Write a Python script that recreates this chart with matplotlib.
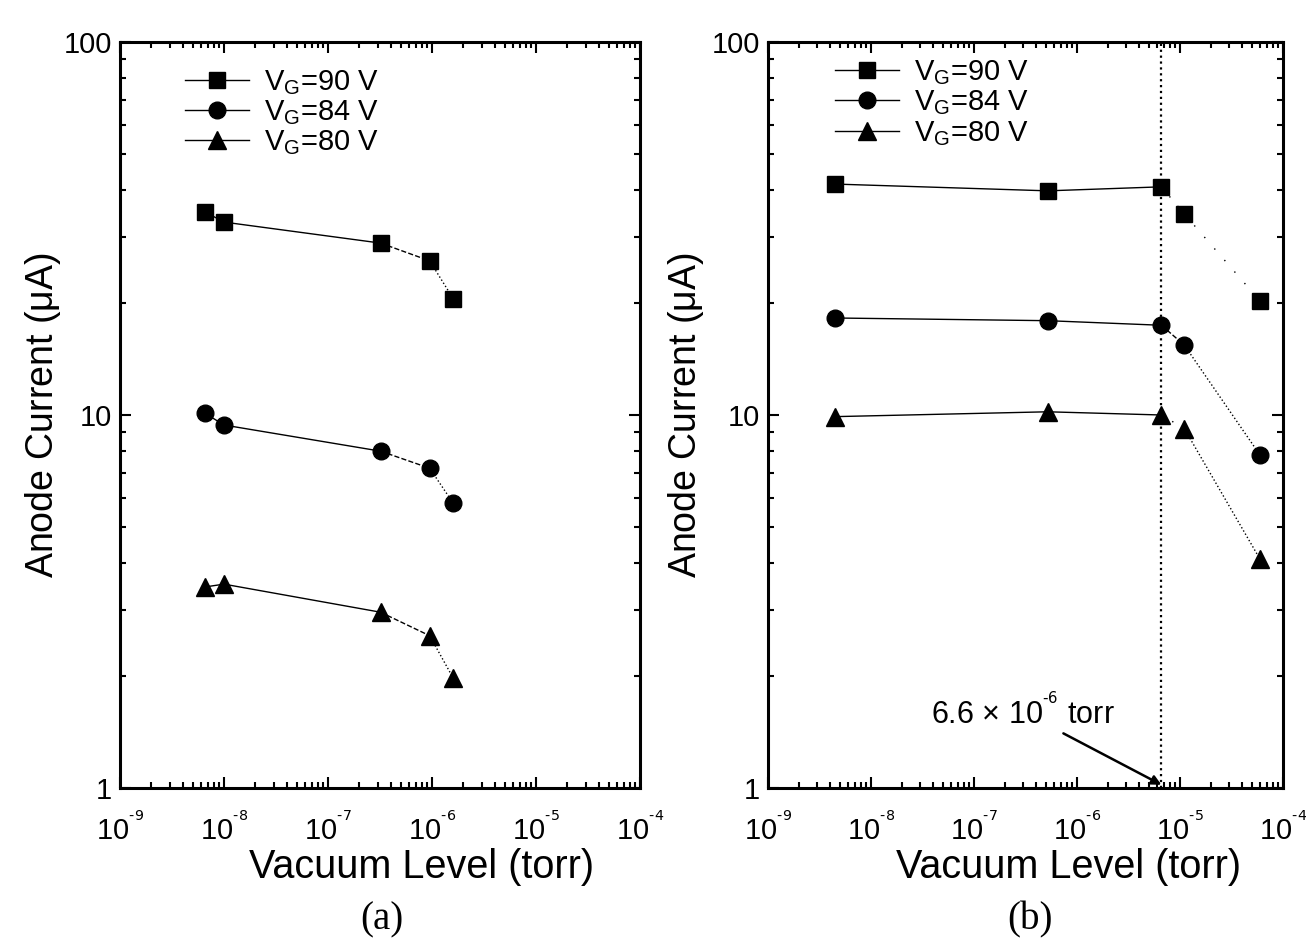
import matplotlib
matplotlib.use("Agg")
import matplotlib.pyplot as plt
from matplotlib.ticker import LogLocator, NullFormatter, FixedLocator

plt.rcParams['font.family'] = ['Liberation Sans', 'DejaVu Sans']
plt.rcParams['mathtext.default'] = 'regular'

# ---------------- data ----------------
labels = [r"V$_{G}$=90 V", r"V$_{G}$=84 V", r"V$_{G}$=80 V"]
markers = ['s', 'o', '^']
x_ticks = [1e-9, 1e-8, 1e-7, 1e-6, 1e-5, 1e-4]
x_ticklabels = [r"10$^{{}^{\text{-9}}}$", r"10$^{{}^{\text{-8}}}$", r"10$^{{}^{\text{-7}}}$",
                r"10$^{{}^{\text{-6}}}$", r"10$^{{}^{\text{-5}}}$", r"10$^{{}^{\text{-4}}}$"]
y_ticks = [1, 10, 100]
y_ticklabels = ['1', '10', '100']

# panel (a)
pressure_a = [6.6e-9, 1.0e-8, 3.2e-7, 9.5e-7, 1.6e-6]
cur_a_90 = [35.0, 32.9, 28.9, 25.9, 20.5]
cur_a_84 = [10.1, 9.4, 8.0, 7.2, 5.8]
cur_a_80 = [3.46, 3.52, 2.96, 2.56, 1.97]

# panel (b)
pressure_b = [4.5e-9, 5.2e-7, 6.6e-6, 1.1e-5, 6.0e-5]
cur_b_90 = [41.6, 39.9, 40.9, 34.6, 20.2]
cur_b_84 = [18.2, 17.9, 17.4, 15.4, 7.8]
cur_b_80 = [9.9, 10.2, 10.0, 9.2, 4.1]

threshold = 6.6e-6

fig = plt.figure(figsize=(13.06, 9.48), dpi=100)
ax_a = fig.add_axes([120/1306, 160/948, 520/1306, 746/948])
ax_b = fig.add_axes([768/1306, 160/948, 515/1306, 746/948])

msizes = {'s': 11, 'o': 12, '^': 13}


def draw(ax, x, series, tail_styles):
    for y, m, lab, tail in zip(series, markers, labels, tail_styles):
        ax.plot(x[:3], y[:3], color='k', lw=1.0, ls='-', marker=m,
                ms=msizes[m], mfc='k', mec='k', label=lab)
        ax.plot(x[2:4], y[2:4], color='k', lw=1.0, ls=tail[0])
        ax.plot(x[3:], y[3:], color='k', lw=1.0, ls=tail[1])
        ax.plot(x[3:], y[3:], ls='none', marker=m, ms=msizes[m], mfc='k', mec='k')


draw(ax_a, pressure_a, [cur_a_90, cur_a_84, cur_a_80],
     [('--', ':'), ('--', ':'), ('--', ':')])
draw(ax_b, pressure_b, [cur_b_90, cur_b_84, cur_b_80],
     [((0, (1, 8)), (0, (1, 10))), ('--', ':'), ((0, (1, 8)), ':')])

ax_b.axvline(threshold, color='k', ls=':', lw=1.6)
ax_b.annotate(r"6.6 × 10$^{{}^{\text{-6}}}$ torr", xy=(threshold, 1.02),
              xytext=(2.3e-6, 1.60), ha='right', va='center', fontsize=22,
              arrowprops=dict(arrowstyle='-|>', color='k', lw=1.8,
                              shrinkA=0, shrinkB=0, mutation_scale=14))

for ax, leg_anchor, xl_x, yl_x in ((ax_a, (0.125, 0.965), 0.58, -0.11),
                                   (ax_b, (0.13, 0.978), 0.584, -0.12)):
    ax.set_xscale('log')
    ax.set_yscale('log')
    ax.set_xlim(1e-9, 1e-4)
    ax.set_ylim(1, 100)
    ax.xaxis.set_major_locator(FixedLocator(x_ticks))
    ax.set_xticklabels(x_ticklabels)
    ax.xaxis.set_minor_locator(LogLocator(base=10, subs=range(2, 10), numticks=20))
    ax.xaxis.set_minor_formatter(NullFormatter())
    ax.yaxis.set_major_locator(FixedLocator(y_ticks))
    ax.set_yticklabels(y_ticklabels)
    ax.yaxis.set_minor_locator(LogLocator(base=10, subs=range(2, 10), numticks=20))
    ax.yaxis.set_minor_formatter(NullFormatter())
    ax.tick_params(which='both', direction='in', top=True, right=True,
                   labelsize=21, width=1.5)
    ax.tick_params(which='major', length=8)
    ax.tick_params(which='minor', length=4)
    ax.tick_params(axis='x', pad=18)
    ax.tick_params(axis='y', pad=6)
    for s in ax.spines.values():
        s.set_linewidth(2.2)
    ax.set_xlabel('Vacuum Level (torr)', fontsize=28.5)
    ax.xaxis.set_label_coords(xl_x, -0.081)
    ax.set_ylabel(r'Anode Current ($\mu$A)', fontsize=27)
    ax.yaxis.set_label_coords(yl_x, 0.5)
    ax.legend(loc='upper left', bbox_to_anchor=leg_anchor, frameon=False,
              fontsize=21, handlelength=2.2, handletextpad=0.5,
              labelspacing=0.05, borderaxespad=0, borderpad=0)

fig.text(382/1306, 1 - 920/948, '(a)', family='Liberation Serif', fontsize=28,
         ha='center', va='center')
fig.text(1030/1306, 1 - 920/948, '(b)', family='Liberation Serif', fontsize=28,
         ha='center', va='center')

fig.savefig('out.png', dpi=100)
